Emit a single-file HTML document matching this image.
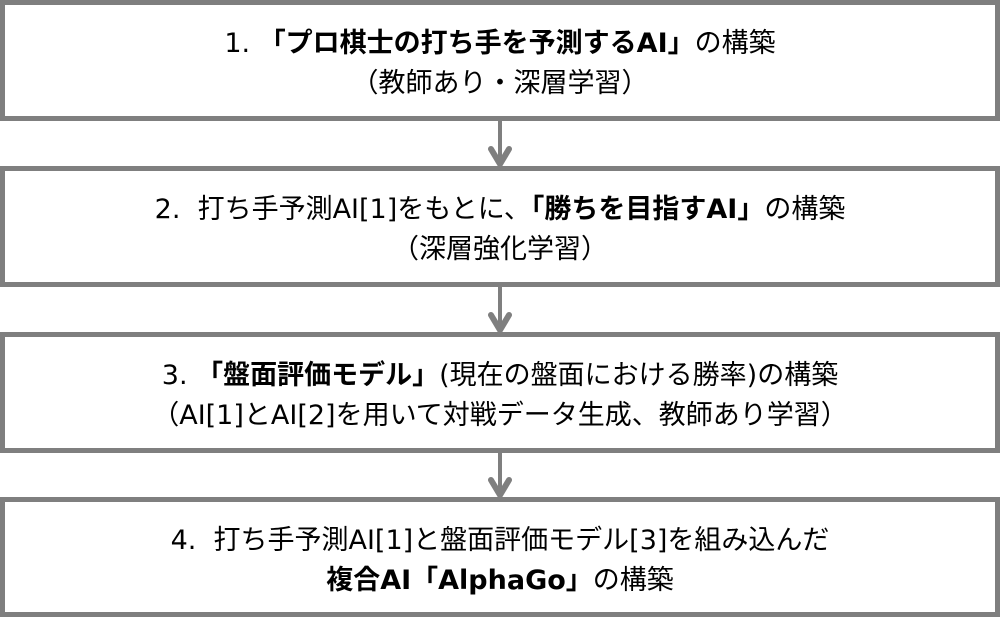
<!DOCTYPE html>
<html><head><meta charset="utf-8"><style>
body{margin:0;width:1000px;height:617px;background:#fff;position:relative;overflow:hidden;font-family:"DejaVu Sans","Noto Sans CJK JP",sans-serif;color:#000}
.b{position:absolute;left:0;width:1000px;height:121px;box-sizing:border-box;border:5px solid #7f7f7f;padding-top:7px;display:flex;flex-direction:column;justify-content:center;align-items:center;font-size:27px;line-height:40px;text-align:center;white-space:nowrap}
b{font-weight:bold}
svg{position:absolute;left:0;top:0}
</style></head><body>
<div class="b" style="top:0">
<div>1.&nbsp;<b>「プロ棋士の打ち手を予測するAI」</b>の構築</div>
<div>（教師あり・深層学習）</div></div>
<div class="b" style="top:166px">
<div>2.&nbsp;&nbsp;打ち手予測AI[1]をもとに、<b>「勝ちを目指すAI」</b>の構築</div>
<div>（深層強化学習）</div></div>
<div class="b" style="top:332px">
<div>3.&nbsp;<b>「盤面評価モデル」</b>(現在の盤面における勝率)の構築</div>
<div>（AI[1]とAI[2]を用いて対戦データ生成、教師あり学習）</div></div>
<div class="b" style="top:497px;height:120px">
<div>4.&nbsp;&nbsp;打ち手予測AI[1]と盤面評価モデル[3]を組み込んだ</div>
<div><b>複合AI「AlphaGo」</b>の構築</div></div>
<svg width="1000" height="617" fill="none" stroke="#7f7f7f" stroke-width="4" stroke-linecap="round">
<g><line x1="500" y1="121" x2="500" y2="164"/><polyline points="491,149 500,164 509,149" stroke-width="6"/></g>
<g><line x1="500" y1="287" x2="500" y2="330"/><polyline points="491,315 500,330 509,315" stroke-width="6"/></g>
<g><line x1="500" y1="453" x2="500" y2="495"/><polyline points="491,480 500,495 509,480" stroke-width="6"/></g>
</svg>
</body></html>
